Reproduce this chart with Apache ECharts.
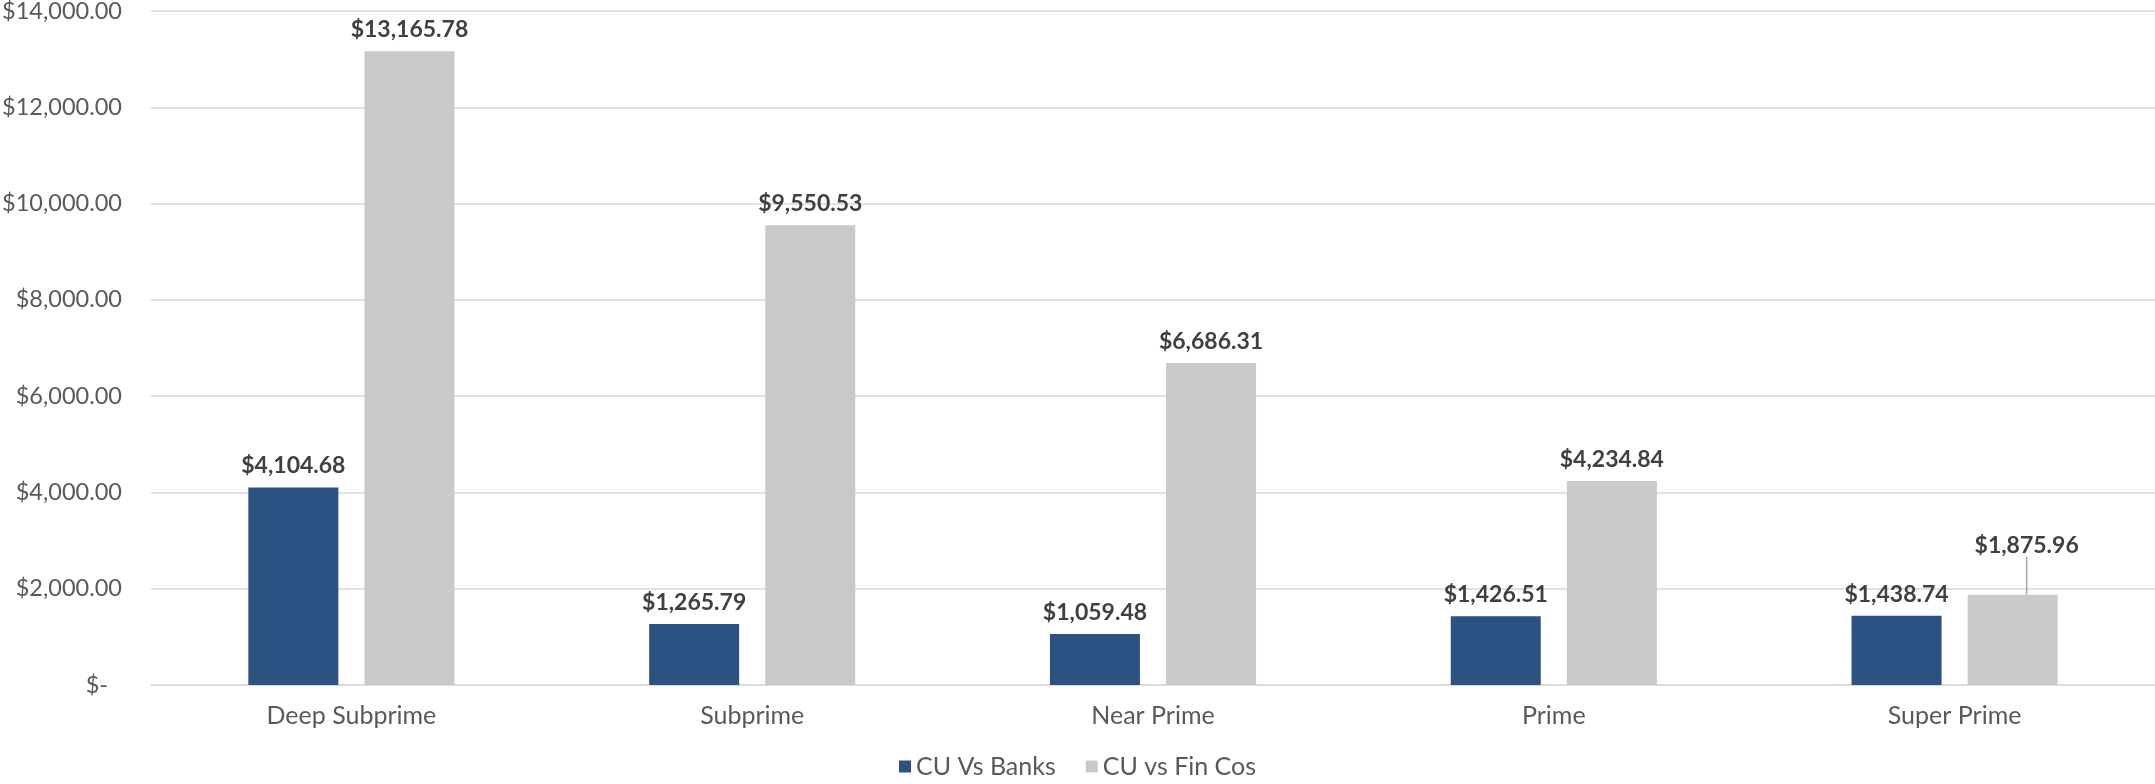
<!DOCTYPE html>
<html>
<head>
<meta charset="utf-8">
<script src="https://cdn.jsdelivr.net/npm/echarts@6/dist/echarts.min.js"></script>
<style>
html,body{margin:0;padding:0;background:#fff;}
#chart{width:2155px;height:784px;}
</style>
</head>
<body>
<div id="chart"></div>
<script>
const categories = ['Deep Subprime', 'Subprime', 'Near Prime', 'Prime', 'Super Prime'];
const seriesNames = ['CU Vs Banks', 'CU vs Fin Cos'];
const cuVsBanks = [4104.68, 1265.79, 1059.48, 1426.51, 1438.74];
const cuVsFinCos = [13165.78, 9550.53, 6686.31, 4234.84, 1875.96];
const yTicks = { min: 0, max: 14000, interval: 2000 };

const FONT = 'Lato, "Noto Sans", sans-serif';
function money(v) {
  return '$' + v.toLocaleString('en-US', { minimumFractionDigits: 2, maximumFractionDigits: 2 });
}
const lastIdx = cuVsFinCos.length - 1;
const finCosData = cuVsFinCos.map((v, i) => i === lastIdx
  ? { value: v, labelLine: { show: true } }
  : v);

const chart = echarts.init(document.getElementById('chart'));
const labelStyle = {
  show: true,
  position: 'top',
  distance: 10,
  fontFamily: FONT,
  fontWeight: 'bold',
  fontSize: 23,
  color: '#404040',
  formatter: p => money(p.value)
};
chart.setOption({
  animation: false,
  backgroundColor: '#fff',
  grid: { left: 151, right: 0, top: 11, bottom: 99, containLabel: false, outerBoundsMode: 'none' },
  legend: {
    bottom: 0,
    left: 'center',
    itemWidth: 12,
    itemHeight: 12,
    itemGap: 30,
    icon: 'rect',
    textStyle: { fontFamily: FONT, fontSize: 25, color: '#595959' },
    data: seriesNames
  },
  xAxis: {
    type: 'category',
    data: categories,
    axisLine: { show: true, lineStyle: { color: '#d9d9d9', width: 1.5 } },
    axisTick: { show: false },
    axisLabel: { fontFamily: FONT, fontSize: 25, color: '#595959', margin: 18 }
  },
  yAxis: {
    type: 'value',
    min: yTicks.min,
    max: yTicks.max,
    interval: yTicks.interval,
    axisLine: { show: false },
    axisTick: { show: false },
    splitLine: { lineStyle: { color: '#d9d9d9', width: 1.5 } },
    axisLabel: {
      fontFamily: FONT, fontSize: 23.5, color: '#595959', margin: 29,
      formatter: v => v === 0 ? '{z|$-}' : money(v),
      rich: { z: { fontFamily: FONT, fontSize: 23.5, color: '#595959', padding: [0, 14, 0, 0] } }
    }
  },
  series: [
    {
      name: seriesNames[0],
      type: 'bar',
      data: cuVsBanks,
      barWidth: 90,
      barGap: '29%',
      itemStyle: { color: '#2c5282' },
      label: labelStyle
    },
    {
      name: seriesNames[1],
      type: 'bar',
      data: finCosData,
      barWidth: 90,
      itemStyle: { color: '#c9c9c9' },
      label: labelStyle,
      labelLine: { show: false, lineStyle: { color: '#a6a6a6', width: 1.5 } },
      labelLayout: function (params) {
        if (params.dataIndex === lastIdx) {
          return { dx: 14, dy: -28 };
        }
        return {};
      }
    }
  ]
});
</script>
</body>
</html>
